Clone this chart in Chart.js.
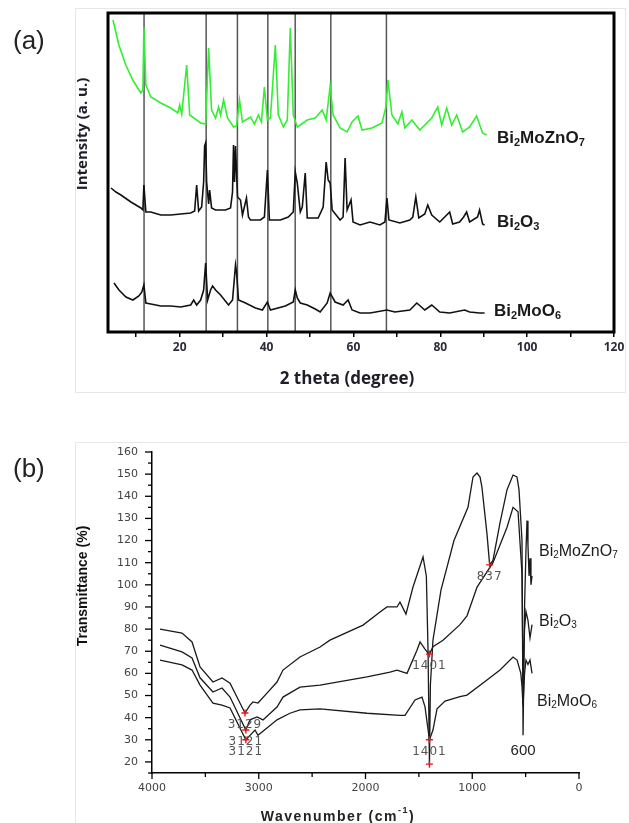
<!DOCTYPE html>
<html>
<head>
<meta charset="utf-8">
<script src="https://cdn.jsdelivr.net/npm/chart.js@4.4.1/dist/chart.umd.min.js"></script>
<style>
  body { margin: 0; background: #fff; }
  #wrap { position: relative; width: 629px; height: 823px; }
  canvas { position: absolute; left: 0; }
  #xrdChart { top: 0; }
  #ftirChart { top: 400px; }
</style>
</head>
<body>
<div id="wrap">
  <canvas id="xrdChart" width="629" height="400"></canvas>
  <canvas id="ftirChart" width="629" height="423"></canvas>
</div>
<script>
// --- XRD data (a) ---
const xrdTicks = [10, 20, 30, 40, 50, 60, 70, 80, 90, 100, 110, 120];
const xrdRefLines = [11.8, 26.1, 33.3, 40.3, 46.6, 54.8, 67.6];

const znTheta = [4.65, 6.0, 7.6, 9.2, 11.07, 11.53, 11.76, 12.22, 13.36, 15.66, 17.95, 19.56, 20.01, 20.47, 21.62, 22.31, 24.83, 25.98, 26.67, 27.35, 28.27, 28.96, 29.42, 30.11, 31.02, 32.4, 33.09, 33.78, 34.46, 36.3, 37.22, 38.13, 38.82, 39.51, 40.2, 40.89, 42.03, 42.72, 43.87, 44.78, 45.47, 46.16, 47.08, 47.77, 49.37, 51.21, 52.81, 53.73, 54.65, 55.33, 56.94, 58.55, 59.69, 61.07, 61.99, 64.28, 66.57, 67.49, 67.95, 68.87, 70.24, 71.16, 71.85, 73.45, 75.29, 78.04, 79.42, 80.33, 81.48, 82.63, 83.78, 85.15, 86.76, 88.36, 89.74, 90.66];
const znInt = [312, 287, 267, 252, 239, 242, 305, 247, 235, 229, 224, 219, 227, 218, 267, 217, 209, 208, 284, 222, 214, 225, 217, 232, 214, 205, 206, 232, 210, 215, 208, 217, 210, 245, 212, 214, 287, 217, 205, 212, 304, 217, 205, 207, 212, 214, 222, 212, 246, 217, 204, 200, 210, 216, 202, 204, 209, 225, 252, 217, 208, 220, 204, 212, 202, 214, 225, 207, 224, 207, 217, 200, 205, 216, 199, 197];

const biTheta = [4.19, 5.33, 6.48, 8.77, 11.07, 11.53, 11.76, 12.22, 13.36, 15.66, 17.95, 20.24, 22.54, 23.45, 23.91, 24.37, 25.06, 25.52, 25.75, 25.98, 26.21, 26.67, 26.9, 27.35, 28.27, 30.56, 31.71, 32.17, 32.4, 32.63, 32.86, 33.09, 33.32, 34.0, 34.46, 35.38, 35.84, 36.3, 38.59, 39.51, 40.2, 40.66, 43.18, 45.01, 46.16, 46.62, 47.08, 47.77, 48.23, 48.91, 49.37, 51.89, 53.04, 53.73, 54.19, 54.65, 55.11, 56.94, 57.63, 58.09, 58.55, 59.46, 59.92, 61.53, 63.82, 66.11, 67.26, 67.72, 68.18, 70.7, 72.99, 73.68, 74.37, 75.06, 76.44, 77.12, 78.04, 79.88, 82.17, 82.86, 84.46, 85.38, 86.07, 86.76, 88.59, 89.05, 89.74, 90.2];
const biInt = [144, 140, 137, 130, 124, 122, 147, 120, 120, 117, 117, 118, 119, 121, 147, 121, 125, 150, 186, 189, 150, 128, 142, 124, 122, 122, 124, 140, 187, 150, 186, 160, 135, 132, 117, 134, 115, 112, 112, 115, 162, 112, 112, 115, 120, 160, 149, 120, 125, 159, 114, 114, 125, 170, 152, 149, 122, 112, 115, 174, 122, 132, 110, 107, 110, 107, 110, 134, 112, 109, 112, 115, 135, 114, 118, 127, 117, 110, 120, 108, 110, 115, 120, 110, 115, 122, 108, 107];

const moTheta = [4.88, 6.02, 7.63, 9.23, 10.61, 11.3, 11.76, 12.22, 13.36, 15.66, 17.95, 20.24, 22.54, 23.22, 23.91, 24.83, 25.52, 25.98, 26.44, 27.12, 27.58, 28.27, 29.42, 31.25, 32.17, 32.63, 32.86, 33.09, 33.55, 35.15, 37.45, 39.05, 40.2, 40.89, 44.33, 46.16, 46.62, 47.08, 47.77, 49.37, 51.21, 52.35, 53.96, 54.65, 55.79, 57.63, 58.78, 59.69, 61.53, 63.82, 67.72, 69.56, 73.0, 74.6, 76.44, 78.04, 79.88, 82.17, 85.61, 86.76, 89.05, 90.2];
const moInt = [49, 42, 35, 32, 36, 40, 47, 29, 28, 26, 26, 25, 27, 32, 27, 32, 42, 69, 32, 42, 46, 42, 37, 27, 32, 55, 67, 60, 32, 29, 24, 22, 30, 22, 26, 30, 42, 34, 29, 27, 23, 20, 29, 39, 30, 27, 32, 22, 19, 19, 22, 20, 22, 29, 22, 27, 20, 19, 22, 20, 19, 19];

// --- FTIR data (b) ---
const irXTicks = [0, 1000, 2000, 3000, 4000];
const irYTicks = [20, 30, 40, 50, 60, 70, 80, 90, 100, 110, 120, 130, 140, 150, 160];

const irZnWn = [3925, 3719, 3625, 3550, 3429, 3344, 3269, 3129, 3082, 3054, 3007, 2923, 2829, 2773, 2614, 2426, 2333, 2023, 1864, 1799, 1705, 1677, 1621, 1555, 1461, 1430, 1414, 1401, 1392, 1368, 1293, 1171, 1040, 993, 955, 927, 909, 862, 837, 806, 740, 674, 618, 581, 562, 534, 524, 510, 497, 487, 478, 468, 459, 450, 440];
const irZnT = [80, 78.2, 74.2, 62.9, 56.1, 57.9, 55.6, 42.1, 45.7, 47.1, 46.6, 51.1, 56.1, 61.5, 67.4, 71.9, 75, 81.8, 87.7, 90, 90, 92.2, 86.8, 99, 112.6, 104, 70, 19, 55, 75, 97.6, 120, 135, 148.7, 150.5, 148.7, 144, 123, 109, 111, 128, 143, 149.6, 148.7, 143, 120, 32, 90, 115, 129, 118, 104, 112, 100, 104];

const irBiWn = [3925, 3719, 3625, 3550, 3429, 3344, 3269, 3121, 3082, 3016, 2960, 2829, 2773, 2614, 2426, 1986, 1770, 1705, 1611, 1518, 1489, 1443, 1414, 1401, 1368, 1274, 1115, 1049, 955, 806, 674, 618, 571, 534, 524, 510, 497, 478, 459, 440];
const irBiT = [72.8, 69.7, 67, 58, 51.6, 53.4, 49.3, 34.4, 39, 40.3, 39, 44.8, 49.3, 53.8, 54.7, 58.4, 60.6, 61.5, 60, 70.5, 74.2, 71, 69.2, 68.7, 72, 75, 82, 86, 99, 110, 126, 135, 133, 105, 55, 80, 88, 84, 76, 82];

const irMoWn = [3925, 3719, 3625, 3550, 3429, 3344, 3269, 3121, 3082, 3035, 3007, 2923, 2829, 2708, 2614, 2426, 1986, 1677, 1630, 1536, 1471, 1443, 1401, 1368, 1330, 1255, 1115, 1049, 862, 740, 618, 580, 545, 534, 524, 510, 497, 478, 459, 440];
const irMoT = [66, 63.8, 61.5, 54.7, 46.6, 45.7, 44.4, 30, 32, 34.4, 32, 35.3, 39, 42, 43.5, 44, 42, 41, 41, 48, 49.3, 45, 30, 34.4, 44, 47.5, 49.5, 50.2, 57, 61.5, 67.4, 66, 60, 54, 45, 60, 66, 64, 66, 60];

const peakWn = [3129, 3121, 3121, 1401, 1401, 1401, 837];
const peakT = [42.1, 34.4, 30, 68.7, 30, 19, 109];
const peakText = ['3129', '3121', '3121', '1401', '1401', '', '837'];

function pts(xs, ys) {
    return xs.map((x, i) => ({ x: x, y: ys[i] }));
}

function drawFormula(ctx, text, x, y, size, weight, color) {
    ctx.save();
    ctx.fillStyle = color;
    ctx.textAlign = 'left';
    ctx.textBaseline = 'alphabetic';
    const base = y + size * 0.36;
    let cx = x;
    for (const ch of text) {
        const sub = /[0-9]/.test(ch);
        const fs = sub ? Math.round(size * 0.62) : size;
        ctx.font = weight + ' ' + fs + 'px "Liberation Sans", Arial, sans-serif';
        ctx.fillText(ch, cx, sub ? base + size * 0.16 : base);
        cx += ctx.measureText(ch).width;
    }
    ctx.restore();
}

// --- XRD chart ---
const xrdDecor = {
    id: 'xrdDecor',
    beforeDatasetsDraw(chart) {
        const ctx = chart.ctx, a = chart.chartArea, xs = chart.scales.x;
        ctx.save();
        ctx.strokeStyle = '#555';
        ctx.lineWidth = 1.5;
        xrdRefLines.forEach(v => {
            const px = xs.getPixelForValue(v);
            ctx.beginPath();
            ctx.moveTo(px, a.top);
            ctx.lineTo(px, a.bottom);
            ctx.stroke();
        });
        ctx.restore();
    },
    afterDraw(chart) {
        const ctx = chart.ctx, a = chart.chartArea;
        ctx.save();
        ctx.strokeStyle = '#e6e6e6';
        ctx.lineWidth = 1;
        ctx.strokeRect(75.5, 8.5, 550, 384);
        ctx.strokeStyle = '#000';
        ctx.lineWidth = 3;
        ctx.strokeRect(a.left, a.top, a.right - a.left, a.bottom - a.top);

        ctx.fillStyle = '#222';
        ctx.font = '26px "Liberation Sans", Arial, sans-serif';
        ctx.textAlign = 'left';
        ctx.textBaseline = 'middle';
        ctx.fillText('(a)', 13, 42);

        ctx.fillStyle = '#1e1e2a';
        ctx.font = 'bold 17px "Open Sans", sans-serif';
        ctx.textAlign = 'center';
        ctx.fillText('2 theta (degree)', 347, 379);

        ctx.save();
        ctx.translate(83, 134);
        ctx.rotate(-Math.PI / 2);
        ctx.font = 'bold 15px "Open Sans", sans-serif';
        ctx.fillText('Intensity (a. u.)', 0, 0);
        ctx.restore();
        ctx.restore();

        drawFormula(ctx, 'Bi2MoZnO7', 497, 137, 17, 'bold', '#1a1a1a');
        drawFormula(ctx, 'Bi2O3', 497, 221, 17, 'bold', '#1a1a1a');
        drawFormula(ctx, 'Bi2MoO6', 494, 310, 17, 'bold', '#1a1a1a');
    }
};

new Chart(document.getElementById('xrdChart'), {
    type: 'line',
    data: {
        datasets: [
            { label: 'Bi2MoZnO7', data: pts(znTheta, znInt), borderColor: '#33ee33', borderWidth: 1.6 },
            { label: 'Bi2O3', data: pts(biTheta, biInt), borderColor: '#111', borderWidth: 1.6 },
            { label: 'Bi2MoO6', data: pts(moTheta, moInt), borderColor: '#111', borderWidth: 1.6 }
        ]
    },
    options: {
        responsive: false,
        animation: false,
        devicePixelRatio: 1,
        elements: { point: { radius: 0 }, line: { tension: 0 } },
        layout: { padding: { left: 108, right: 15, top: 13, bottom: 0 } },
        plugins: { legend: { display: false }, tooltip: { enabled: false } },
        scales: {
            x: {
                type: 'linear',
                min: 3.5,
                max: 120,
                afterBuildTicks: s => { s.ticks = xrdTicks.map(v => ({ value: v })); },
                afterFit: s => { s.height = 68; },
                grid: { drawOnChartArea: false, drawTicks: true, tickLength: 5, color: '#000', lineWidth: 1.5 },
                border: { display: false },
                ticks: {
                    padding: 3,
                    autoSkip: false,
                    maxRotation: 0,
                    color: '#2b2b3a',
                    font: { family: 'Open Sans', weight: 'bold', size: 12 },
                    callback: v => (v % 20 === 0 ? String(v) : '')
                }
            },
            y: { display: false, min: 0, max: 319 }
        }
    },
    plugins: [xrdDecor]
});

// --- FTIR chart ---
const ftirDecor = {
    id: 'ftirDecor',
    afterDraw(chart) {
        const ctx = chart.ctx, a = chart.chartArea;
        const xs = chart.scales.x, ys = chart.scales.y;
        ctx.save();
        ctx.strokeStyle = '#e6e6e6';
        ctx.lineWidth = 1;
        ctx.beginPath();
        ctx.moveTo(75.5, 423);
        ctx.lineTo(75.5, 42.5);
        ctx.lineTo(628, 42.5);
        ctx.stroke();

        // tick marks
        ctx.strokeStyle = '#000';
        ctx.lineWidth = 1.3;
        for (let v = 15; v <= 160; v += 5) {
            const py = ys.getPixelForValue(v);
            const len = v % 10 === 0 ? 7 : 4;
            ctx.beginPath();
            ctx.moveTo(a.left - len, py);
            ctx.lineTo(a.left, py);
            ctx.stroke();
        }
        for (let v = 0; v <= 4000; v += 500) {
            const px = xs.getPixelForValue(v);
            const len = v % 1000 === 0 ? 6 : 4;
            ctx.beginPath();
            ctx.moveTo(px, a.bottom);
            ctx.lineTo(px, a.bottom + len);
            ctx.stroke();
        }

        // peak markers
        ctx.strokeStyle = '#ee1111';
        ctx.lineWidth = 1.4;
        ctx.fillStyle = '#555';
        ctx.font = '12px "DejaVu Sans", sans-serif';
        ctx.letterSpacing = '1px';
        ctx.textAlign = 'center';
        ctx.textBaseline = 'middle';
        peakWn.forEach((wn, i) => {
            const px = xs.getPixelForValue(wn), py = ys.getPixelForValue(peakT[i]);
            ctx.beginPath();
            ctx.moveTo(px - 3.5, py); ctx.lineTo(px + 3.5, py);
            ctx.moveTo(px, py - 3.5); ctx.lineTo(px, py + 3.5);
            ctx.stroke();
            if (peakText[i]) ctx.fillText(peakText[i], px, py + 12);
        });
        ctx.fillStyle = '#222';
        ctx.font = '15px "Liberation Sans", Arial, sans-serif';
        ctx.letterSpacing = '0px';
        ctx.fillText('600', xs.getPixelForValue(524), ys.getPixelForValue(32) + 15);

        // panel label & titles
        ctx.font = '26px "Liberation Sans", Arial, sans-serif';
        ctx.textAlign = 'left';
        ctx.fillText('(b)', 13, 70);

        ctx.save();
        ctx.translate(83, 186);
        ctx.rotate(-Math.PI / 2);
        ctx.textAlign = 'center';
        ctx.font = 'bold 14px "Liberation Sans", Arial, sans-serif';
        ctx.fillStyle = '#111';
        ctx.fillText('Transmittance (%)', 0, 0);
        ctx.restore();

        ctx.fillStyle = '#222';
        ctx.font = 'bold 14px "Liberation Sans", Arial, sans-serif';
        ctx.letterSpacing = '1.5px';
        const t1 = 'Wavenumber (cm', t3 = ')';
        ctx.save();
        ctx.font = 'bold 9px "Liberation Sans", Arial, sans-serif';
        const w2 = ctx.measureText('-1').width;
        ctx.restore();
        const w1 = ctx.measureText(t1).width, w3 = ctx.measureText(t3).width;
        let tx = 338 - (w1 + w2 + w3) / 2;
        ctx.fillText(t1, tx, 417);
        tx += w1;
        ctx.save();
        ctx.font = 'bold 9px "Liberation Sans", Arial, sans-serif';
        ctx.fillText('-1', tx, 411);
        ctx.restore();
        ctx.fillText(t3, tx + w2, 417);
        ctx.restore();

        drawFormula(ctx, 'Bi2MoZnO7', 539, 150, 16, 'normal', '#1a1a1a');
        drawFormula(ctx, 'Bi2O3', 539, 220, 16, 'normal', '#1a1a1a');
        drawFormula(ctx, 'Bi2MoO6', 537, 300, 16, 'normal', '#1a1a1a');
    }
};

new Chart(document.getElementById('ftirChart'), {
    type: 'line',
    data: {
        datasets: [
            { label: 'Bi2MoZnO7', data: pts(irZnWn, irZnT), borderColor: '#1a1a1a', borderWidth: 1.3 },
            { label: 'Bi2O3', data: pts(irBiWn, irBiT), borderColor: '#1a1a1a', borderWidth: 1.3 },
            { label: 'Bi2MoO6', data: pts(irMoWn, irMoT), borderColor: '#1a1a1a', borderWidth: 1.3 }
        ]
    },
    options: {
        responsive: false,
        animation: false,
        devicePixelRatio: 1,
        elements: { point: { radius: 0 }, line: { tension: 0 } },
        layout: { padding: { left: 0, right: 50, top: 52, bottom: 0 } },
        plugins: { legend: { display: false }, tooltip: { enabled: false } },
        scales: {
            x: {
                type: 'linear',
                reverse: true,
                min: 0,
                max: 4000,
                afterBuildTicks: s => { s.ticks = irXTicks.map(v => ({ value: v })); },
                afterFit: s => { s.height = 50; },
                grid: { display: false, drawTicks: false },
                border: { display: true, color: '#000', width: 1.5 },
                ticks: { padding: 9, autoSkip: false, maxRotation: 0, color: '#444', font: { family: 'DejaVu Sans', size: 11 }, callback: v => String(v) }
            },
            y: {
                min: 15,
                max: 160,
                afterBuildTicks: s => { s.ticks = irYTicks.map(v => ({ value: v })); },
                afterFit: s => { s.width = 152; },
                grid: { display: false, drawTicks: false },
                border: { display: true, color: '#000', width: 1.5 },
                ticks: { padding: 14, autoSkip: false, color: '#444', font: { family: 'DejaVu Sans', size: 11 }, callback: v => String(v) }
            }
        }
    },
    plugins: [ftirDecor]
});
</script>
</body>
</html>
